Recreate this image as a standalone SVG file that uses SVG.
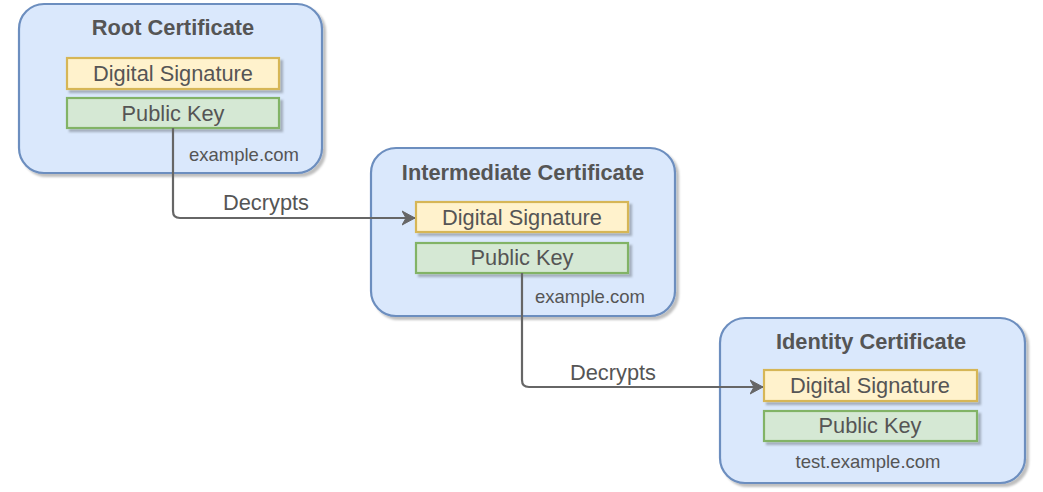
<svg xmlns="http://www.w3.org/2000/svg" width="1043" height="492" viewBox="0 0 1043 492">
<defs>
<filter id="sh" x="-10%" y="-10%" width="130%" height="130%">
<feDropShadow dx="3" dy="3" stdDeviation="1.2" flood-color="#000" flood-opacity="0.25"/>
</filter>
<marker id="arr" viewBox="0 0 14 16" refX="13" refY="8" markerWidth="14" markerHeight="16" markerUnits="userSpaceOnUse" orient="auto">
<path d="M0,1 L13,8 L0,15 L4,8 Z" fill="#666666" stroke="#666666" stroke-width="1"/>
</marker>
</defs>
<style>
.cont{fill:#dae8fc;stroke:#6c8ebf;stroke-width:2.2;filter:url(#sh)}
.ds{fill:#fff2cc;stroke:#d6b656;stroke-width:2.2;filter:url(#sh)}
.pk{fill:#d5e8d4;stroke:#82b366;stroke-width:2.2;filter:url(#sh)}
text{font-family:"Liberation Sans",Arial,Helvetica,sans-serif;fill:#555555;text-anchor:middle}
.title{font-size:21.8px;font-weight:bold}
.lbl{font-size:21.8px}
.dom{font-size:18.5px}
.edge{fill:none;stroke:#666666;stroke-width:2.2}
</style>
<g id="root">
<rect class="cont" x="19" y="4" width="303" height="169" rx="25"/>
<text class="title" x="173" y="35">Root Certificate</text>
<rect class="ds" x="67" y="58" width="212" height="31"/>
<text class="lbl" x="173" y="81">Digital Signature</text>
<rect class="pk" x="67" y="98" width="212" height="30"/>
<text class="lbl" x="173" y="121">Public Key</text>
<text class="dom" x="244" y="161">example.com</text>
</g>
<g id="intermediate">
<rect class="cont" x="371" y="148" width="304" height="168" rx="25"/>
<text class="title" x="523" y="180">Intermediate Certificate</text>
<rect class="ds" x="416" y="202" width="212" height="30"/>
<text class="lbl" x="522" y="225">Digital Signature</text>
<rect class="pk" x="416" y="243" width="212" height="30"/>
<text class="lbl" x="522" y="265">Public Key</text>
<text class="dom" x="590" y="303">example.com</text>
</g>
<g id="identity">
<rect class="cont" x="720" y="318" width="305" height="165" rx="25"/>
<text class="title" x="871" y="349">Identity Certificate</text>
<rect class="ds" x="764" y="370" width="213" height="31"/>
<text class="lbl" x="870" y="393">Digital Signature</text>
<rect class="pk" x="764" y="411" width="213" height="30"/>
<text class="lbl" x="870" y="433">Public Key</text>
<text class="dom" x="868" y="468">test.example.com</text>
</g>
<g id="connectors">
<path class="edge" d="M173,128 L173,211 Q173,218 180,218 L415,218" marker-end="url(#arr)"/>
<text class="lbl" x="266" y="210">Decrypts</text>
<path class="edge" d="M522,273 L522,380 Q522,387 529,387 L763,387" marker-end="url(#arr)"/>
<text class="lbl" x="613" y="380">Decrypts</text>
</g>
</svg>
